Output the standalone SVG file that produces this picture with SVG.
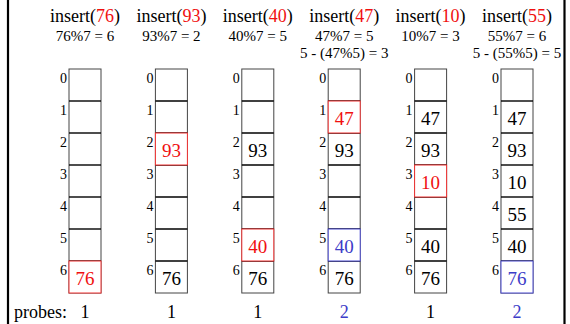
<svg xmlns="http://www.w3.org/2000/svg" width="570" height="324" viewBox="0 0 570 324">
<style>
text{font-family:"Liberation Serif","Times New Roman",serif;fill:#000}
.h{font-size:18px;text-anchor:middle}
.s{font-size:15px;text-anchor:middle}
.idx{font-size:14px;text-anchor:end}
.v{font-size:19px;text-anchor:middle}
.p{font-size:18px;text-anchor:middle}
.r{fill:#f01010}
.b{fill:#3c3cc8}
.box{fill:#fff;stroke:#444;stroke-width:1}
.sep{stroke:#000;stroke-width:1.4}
.hr{fill:#fff;stroke:#f03030;stroke-width:1}
.hb{fill:#fff;stroke:#4848d0;stroke-width:1}
.border{stroke:#000;stroke-width:2.2}
</style>
<defs>
<g id="table">
<rect class="box" x="0" y="0" width="32" height="224"/>
<line class="sep" x1="0" y1="32" x2="32" y2="32"/>
<line class="sep" x1="0" y1="64" x2="32" y2="64"/>
<line class="sep" x1="0" y1="96" x2="32" y2="96"/>
<line class="sep" x1="0" y1="128" x2="32" y2="128"/>
<line class="sep" x1="0" y1="160" x2="32" y2="160"/>
<line class="sep" x1="0" y1="192" x2="32" y2="192"/>
<text class="idx" x="-2" y="14">0</text>
<text class="idx" x="-2" y="46">1</text>
<text class="idx" x="-2" y="78">2</text>
<text class="idx" x="-2" y="110">3</text>
<text class="idx" x="-2" y="142">4</text>
<text class="idx" x="-2" y="174">5</text>
<text class="idx" x="-2" y="206">6</text>
</g>
</defs>
<g id="frame">
<line class="border" x1="8" y1="0" x2="8" y2="324"/>
<line class="border" x1="564.5" y1="0" x2="564.5" y2="324"/>
</g>
<g id="col1" transform="translate(69,69)">
<text class="h" x="16" y="-47">insert(<tspan class="r">76</tspan>)</text>
<text class="s" x="16" y="-28">76%7 = 6</text>
<use href="#table"/>
<rect class="hr" x="0" y="192" width="32" height="32"/>
<text class="v r" x="16" y="216">76</text>
</g>
<g id="col2" transform="translate(155.4,69)">
<text class="h" x="16" y="-47">insert(<tspan class="r">93</tspan>)</text>
<text class="s" x="16" y="-28">93%7 = 2</text>
<use href="#table"/>
<rect class="hr" x="0" y="64" width="32" height="32"/>
<text class="v r" x="16" y="88">93</text>
<text class="v" x="16" y="216">76</text>
</g>
<g id="col3" transform="translate(241.8,69)">
<text class="h" x="16" y="-47">insert(<tspan class="r">40</tspan>)</text>
<text class="s" x="16" y="-28">40%7 = 5</text>
<use href="#table"/>
<text class="v" x="16" y="88">93</text>
<rect class="hr" x="0" y="160" width="32" height="32"/>
<text class="v r" x="16" y="184">40</text>
<text class="v" x="16" y="216">76</text>
</g>
<g id="col4" transform="translate(328.2,69)">
<text class="h" x="16" y="-47">insert(<tspan class="r">47</tspan>)</text>
<text class="s" x="16" y="-28">47%7 = 5</text>
<text class="s" x="16" y="-11">5 - (47%5) = 3</text>
<use href="#table"/>
<rect class="hr" x="0" y="32" width="32" height="32"/>
<text class="v r" x="16" y="56">47</text>
<text class="v" x="16" y="88">93</text>
<rect class="hb" x="0" y="160" width="32" height="32"/>
<text class="v b" x="16" y="184">40</text>
<text class="v" x="16" y="216">76</text>
</g>
<g id="col5" transform="translate(414.6,69)">
<text class="h" x="16" y="-47">insert(<tspan class="r">10</tspan>)</text>
<text class="s" x="16" y="-28">10%7 = 3</text>
<use href="#table"/>
<text class="v" x="16" y="56">47</text>
<text class="v" x="16" y="88">93</text>
<rect class="hr" x="0" y="96" width="32" height="32"/>
<text class="v r" x="16" y="120">10</text>
<text class="v" x="16" y="184">40</text>
<text class="v" x="16" y="216">76</text>
</g>
<g id="col6" transform="translate(501,69)">
<text class="h" x="16" y="-47">insert(<tspan class="r">55</tspan>)</text>
<text class="s" x="16" y="-28">55%7 = 6</text>
<text class="s" x="16" y="-11">5 - (55%5) = 5</text>
<use href="#table"/>
<text class="v" x="16" y="56">47</text>
<text class="v" x="16" y="88">93</text>
<text class="v" x="16" y="120">10</text>
<text class="v" x="16" y="152">55</text>
<text class="v" x="16" y="184">40</text>
<rect class="hb" x="0" y="192" width="32" height="32"/>
<text class="v b" x="16" y="216">76</text>
</g>
<g id="probes">
<text x="14" y="318" style="font-size:18px">probes:</text>
<text class="p" x="85" y="318">1</text>
<text class="p" x="171.4" y="318">1</text>
<text class="p" x="257.8" y="318">1</text>
<text class="p b" x="344.2" y="318">2</text>
<text class="p" x="430.6" y="318">1</text>
<text class="p b" x="517" y="318">2</text>
</g>
</svg>
